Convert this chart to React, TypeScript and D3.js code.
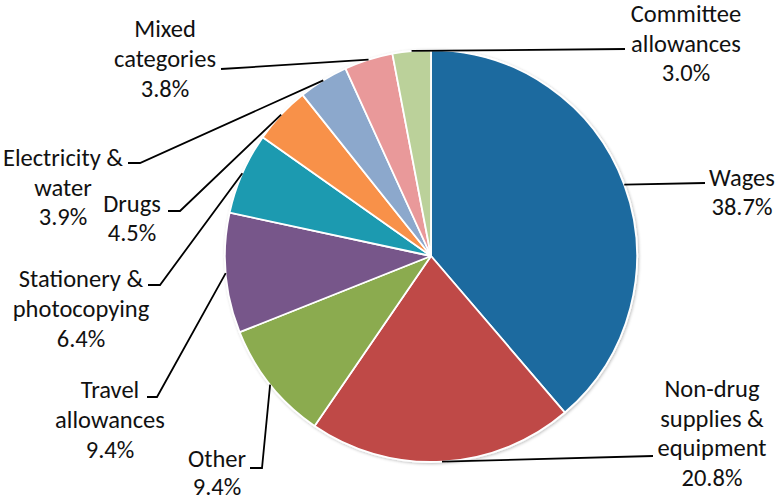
import React from "react";
import * as d3 from "d3";

const categories = [
  "Wages",
  "Non-drug supplies & equipment",
  "Other",
  "Travel allowances",
  "Stationery & photocopying",
  "Drugs",
  "Electricity & water",
  "Mixed categories",
  "Committee allowances",
];
const values = [38.7, 20.8, 9.4, 9.4, 6.4, 4.5, 3.9, 3.8, 3.0];
const colors = [
  "#1F6B9F",
  "#BF4847",
  "#8BAB4F",
  "#77578A",
  "#1A9AB0",
  "#F8914A",
  "#8CA8CC",
  "#E9999A",
  "#BBD19A",
];
// label text lines (name lines); the percentage line is appended from values
const labelLines = [
  ["Wages"],
  ["Non-drug", "supplies &", "equipment"],
  ["Other"],
  ["Travel", "allowances"],
  ["Stationery &", "photocopying"],
  ["Drugs"],
  ["Electricity &", "water"],
  ["Mixed", "categories"],
  ["Committee", "allowances"],
];

// layout: label centre x, first baseline y, line gap; leader path after the pie edge point
const labelLayout = [
  { x: 742, y: 186, gap: 29, leader: [[705, 183]] },
  { x: 712, y: 397, gap: 29.5, leader: [[653, 456]] },
  { x: 217, y: 467, gap: 28, leader: [[262, 468], [250, 468]] },
  { x: 110, y: 398, gap: 30, leader: [[157, 397], [147, 397]] },
  { x: 81, y: 287, gap: 30, leader: [[160, 285], [148, 285]] },
  { x: 132, y: 212, gap: 29, leader: [[180, 211], [168, 211]] },
  { x: 63, y: 166, gap: 29.5, leader: [[140, 163], [128, 163]] },
  { x: 165, y: 37, gap: 30, leader: [[221, 69]] },
  { x: 686, y: 22, gap: 29.5, leader: [[625, 49]] },
];

const W = 780;
const H = 502;
const cx = 431;
const cy = 256;
const R = 206;

export default function App() {
  const pie = d3
    .pie<number>()
    .sort(null)
    .value((d) => d)
    .startAngle(0)
    .endAngle(2 * Math.PI);
  const arcs = pie(values);
  const arc = d3.arc<d3.PieArcDatum<number>>().innerRadius(0).outerRadius(R);
  const edge = d3.arc<d3.PieArcDatum<number>>().innerRadius(R).outerRadius(R);
  const line = d3.line();
  const font = "Carlito, Lato, 'Open Sans', sans-serif";

  return (
    <svg
      width={W}
      height={H}
      style={{ position: "absolute", left: 0, top: 0, background: "#fff" }}
      fontFamily={font}
    >
      <defs>
        <filter id="sh" x="-10%" y="-10%" width="120%" height="120%">
          <feGaussianBlur in="SourceAlpha" stdDeviation="1.5" />
          <feOffset dx="0.5" dy="1" result="b" />
          <feFlood floodColor="#000" floodOpacity="0.25" />
          <feComposite in2="b" operator="in" />
          <feMerge>
            <feMergeNode />
            <feMergeNode in="SourceGraphic" />
          </feMerge>
        </filter>
      </defs>
      <g transform={`translate(${cx},${cy})`} filter="url(#sh)">
        {arcs.map((a, i) => (
          <path
            key={i}
            d={arc(a) || ""}
            fill={colors[i]}
            stroke="#fff"
            strokeWidth={1.8}
            strokeLinejoin="round"
          />
        ))}
      </g>
      {arcs.map((a, i) => {
        const [ex, ey] = edge.centroid(a);
        const pts: [number, number][] = [
          [cx + ex, cy + ey],
          ...(labelLayout[i].leader as [number, number][]),
        ];
        return (
          <path
            key={"l" + i}
            d={line(pts) || ""}
            fill="none"
            stroke="#000"
            strokeWidth={1.8}
          />
        );
      })}
      {categories.map((c, i) => {
        const L = labelLayout[i];
        const lines = [...labelLines[i], `${values[i].toFixed(1)}%`];
        return (
          <text
            key={"t" + i}
            x={L.x}
            y={L.y}
            textAnchor="middle"
            fontSize={24.5}
            fill="#111"
          >
            {lines.map((s, j) => (
              <tspan key={j} x={L.x} y={L.y + j * L.gap}>
                {s}
              </tspan>
            ))}
          </text>
        );
      })}
    </svg>
  );
}
